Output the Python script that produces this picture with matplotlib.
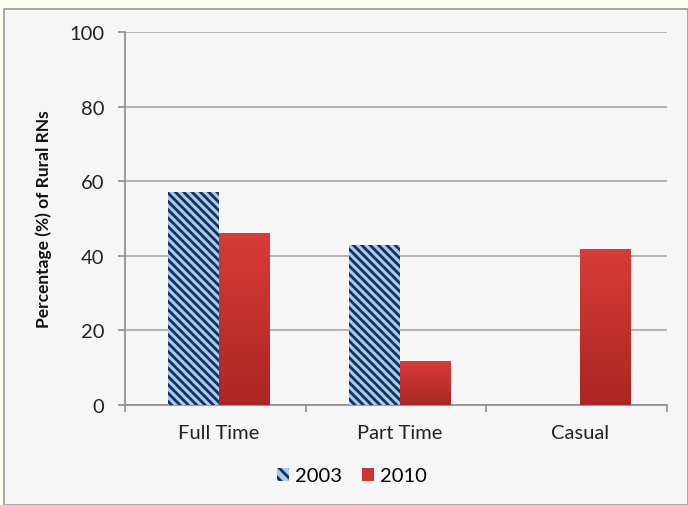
import matplotlib
matplotlib.use("Agg")
import matplotlib.pyplot as plt
import numpy as np
from matplotlib.patches import Rectangle
from matplotlib.colors import LinearSegmentedColormap

categories = ["Full Time", "Part Time", "Casual"]
years = ["2003", "2010"]
values_2003 = [57.1, 42.9, 0.0]
values_2010 = [46.1, 11.8, 41.8]
yticks = [0, 20, 40, 60, 80, 100]

plt.rcParams['font.family'] = ['Lato', 'DejaVu Sans']
plt.rcParams['hatch.linewidth'] = 2.0
plt.rcParams['hatch.color'] = '#14305a'

HATCH_C = '#14305a'
BLUE = '#a9c9ef'
RED = '#cc3430'
HATCH = '\\\\\\\\'

fig = plt.figure(figsize=(6.88, 5.06), dpi=100)
fig.patch.set_facecolor('#fdfdf2')
W, H = 688, 506
# chart box
box = Rectangle((4 / W, 0), 1 - 4 / W, 1 - 10 / H, transform=fig.transFigure,
                facecolor='#f6f6f6', edgecolor='#9a9a9a', linewidth=1.2, zorder=-5)
fig.patches.append(box)

ax = fig.add_axes([125 / W, 1 - 406 / H, (667 - 125) / W, (406 - 33) / H])
ax.set_facecolor('none')

x = np.arange(len(categories))
bw = 0.28
off = 0.02
b03 = ax.bar(x - bw / 2 + off, values_2003, bw, facecolor=BLUE, edgecolor=HATCH_C, linewidth=0,
             hatch=HATCH, zorder=3, label=years[0])
b10 = ax.bar(x + bw / 2 + off, values_2010, bw, facecolor=RED, edgecolor='none',
             zorder=3, label=years[1])

# vertical gradient on 2010 bars
grad = np.linspace(0, 1, 256).reshape(-1, 1)
cmap = LinearSegmentedColormap.from_list('rg', ['#ab2622', '#d83c37'])
for bar in b10:
    x0, y0 = bar.get_x(), bar.get_y()
    w, h = bar.get_width(), bar.get_height()
    im = ax.imshow(grad, extent=[x0, x0 + w, y0, y0 + h], origin='lower', cmap=cmap,
                   aspect='auto', zorder=4)
    im.set_clip_path(bar)

FS = 14.5
ax.set_xlim(-0.5, 2.5)
ax.set_ylim(0, 100)
ax.set_yticks(yticks)
ax.set_yticklabels([str(t) for t in yticks], fontsize=FS, color='#222222')
ax.yaxis.grid(True, color='#a6a6a6', linewidth=1.2, zorder=0)
ax.set_axisbelow(True)

ax.set_xticks(x + off)
ax.set_xticklabels(categories, fontsize=FS, color='#222222')
ax.tick_params(axis='x', length=0, pad=14)
ax.set_xticks([-0.5, 0.5, 1.5, 2.5], minor=True)
ax.tick_params(axis='x', which='minor', length=5, color='#8c8c8c', width=1.2)
ax.tick_params(axis='y', length=5, color='#8c8c8c', width=1.2, pad=10)

for s in ['top', 'right']:
    ax.spines[s].set_visible(False)
for s in ['left', 'bottom']:
    ax.spines[s].set_color('#8c8c8c')
    ax.spines[s].set_linewidth(1.2)

ax.set_ylabel("Percentage (%) of Rural RNs", fontsize=12.5, fontweight='bold',
              color='#111111', labelpad=12)

handles = [Rectangle((0, 0), 1, 1, facecolor=BLUE, hatch='\\\\\\', edgecolor=HATCH_C, linewidth=0),
           Rectangle((0, 0), 1, 1, facecolor=RED, edgecolor='none')]
fig.legend(handles, years, loc='center', bbox_to_anchor=(352 / W, 1 - 477 / H),
           ncol=2, frameon=False, fontsize=FS, handlelength=0.6, handleheight=0.6,
           columnspacing=1.0, handletextpad=0.3)

fig.savefig('out.png', dpi=100)
